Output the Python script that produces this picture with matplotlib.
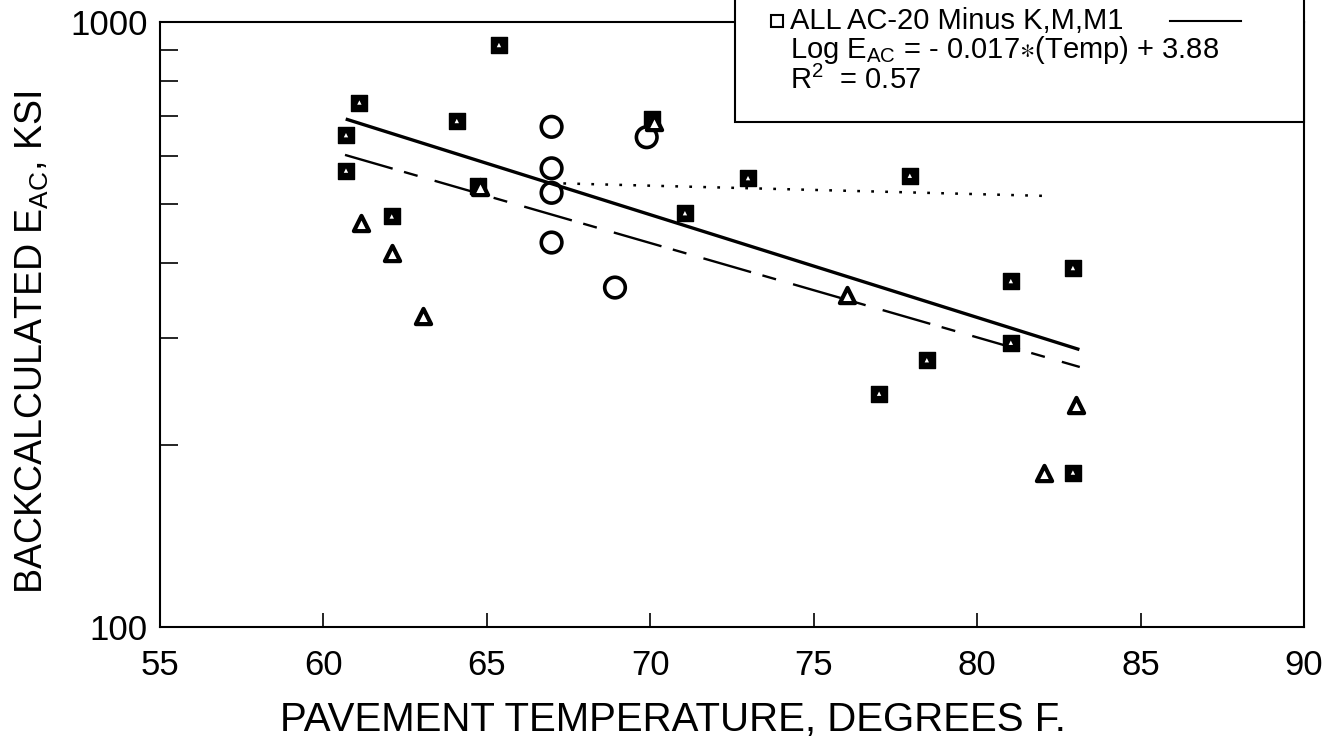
"""Backcalculated AC modulus vs pavement temperature (log scale)."""

import matplotlib as mpl
mpl.use("Agg")
import matplotlib.pyplot as plt
from matplotlib.patches import Rectangle
from matplotlib.lines import Line2D

# --- data ------------------------------------------------------------------
square_temp = [61.10, 60.69, 60.69, 64.08, 64.74, 65.37, 62.09, 70.04, 71.06,
               72.99, 77.94, 78.46, 77.00, 81.03, 81.03, 82.93, 82.93]
square_e = [736, 650, 568, 686, 536, 916, 477, 690, 483,
            552, 557, 276, 243, 373, 295, 392, 180]

triangle_temp = [61.14, 62.09, 63.05, 64.79, 70.11, 76.02, 82.04, 83.02]
triangle_e = [466, 415, 327, 533, 684, 354, 180, 233]

circle_temp = [66.98, 66.98, 66.98, 66.98, 69.89, 68.92]
circle_e = [671, 573, 522, 432, 645, 364]

fit_all_temp = [60.73, 83.08]
fit_all_e = [690, 288]
fit_tri_temp = [60.66, 83.14]
fit_tri_e = [603, 269]
fit_circ_temp = [67.34, 82.0]
fit_circ_e = [541, 516]

x_ticks = [55, 60, 65, 70, 75, 80, 85, 90]

W, H = 1337, 745

plt.rcParams.update({
    "font.family": ["Liberation Sans", "DejaVu Sans"],
    "mathtext.default": "regular",
})

fig = plt.figure(figsize=(W / 100, H / 100), dpi=100)
ax = fig.add_axes([160 / W, 1 - 627 / H, 1144 / W, 605 / H])

ax.plot(fit_all_temp, fit_all_e, color="black", linewidth=2.4, zorder=2)
ax.plot(fit_tri_temp, fit_tri_e, color="black", linewidth=1.7,
        dashes=(21, 5, 6, 7.5), zorder=2)
ax.plot(fit_circ_temp, fit_circ_e, color="black", linewidth=1.8,
        dashes=(1.1, 4.5), zorder=2)

ax.scatter(square_temp, square_e, marker="s", s=140, facecolor="black",
           edgecolor="black", linewidth=1, zorder=3)
ax.scatter(square_temp, square_e, marker="^", s=10, facecolor="white",
           edgecolor="none", zorder=4)
ax.scatter(triangle_temp, triangle_e, marker="^", s=120, facecolor="white",
           edgecolor="black", linewidth=3.0, zorder=5)
ax.scatter(circle_temp, circle_e, marker="o", s=220, facecolor="none",
           edgecolor="black", linewidth=2.6, zorder=3)

ax.set_yscale("log")
ax.set_xlim(55, 90)
ax.set_ylim(100, 1000)
ax.set_xticks(x_ticks)
ax.set_yticks([100, 1000])
ax.set_yticklabels(["100", "1000"])
ax.yaxis.set_minor_formatter(mpl.ticker.NullFormatter())
ax.tick_params(axis="both", which="major", direction="in", labelsize=25,
               length=10, width=1.2)
ax.tick_params(axis="y", which="minor", direction="in", length=13, width=1.2)
ax.tick_params(axis="x", pad=16)
ax.tick_params(axis="y", pad=9)
ax.tick_params(right=False, top=False, which="both")
for spine in ax.spines.values():
    spine.set_linewidth(1.5)

ax.set_xlabel("PAVEMENT TEMPERATURE, DEGREES F.", fontsize=29)
ax.xaxis.set_label_coords(0.448, -0.123)
ax.set_ylabel("BACKCALCULATED E$_{AC}$, KSI", fontsize=27)
ax.yaxis.set_label_coords(-0.095, 0.47)

# legend box sitting on top of the frame
fig.patches.append(Rectangle((735 / W, 1 - 122 / H), 569 / W, 130 / H,
                             transform=fig.transFigure, facecolor="white",
                             edgecolor="black", linewidth=1.5, zorder=10))
fig.lines.append(Line2D([777 / W], [1 - 21 / H], marker="s", markersize=8,
                        markerfacecolor="white", markeredgecolor="black",
                        markeredgewidth=1.5, transform=fig.transFigure,
                        zorder=11))
fig.lines.append(Line2D([1170 / W, 1241 / W], [1 - 21 / H, 1 - 21 / H],
                        color="black", linewidth=1.5,
                        transform=fig.transFigure, zorder=11))
legend_lines = [
    "ALL AC-20 Minus K,M,M1",
    r"Log E$_{AC}$ = - 0.017$\ast$(Temp) + 3.88",
    "R$^{2}$  = 0.57",
]
for i, txt in enumerate(legend_lines):
    fig.text(790 / W, 1 - (21 + 29.5 * i) / H, txt, fontsize=21,
             va="center", ha="left", zorder=12)

fig.savefig("out.png", dpi=100)
